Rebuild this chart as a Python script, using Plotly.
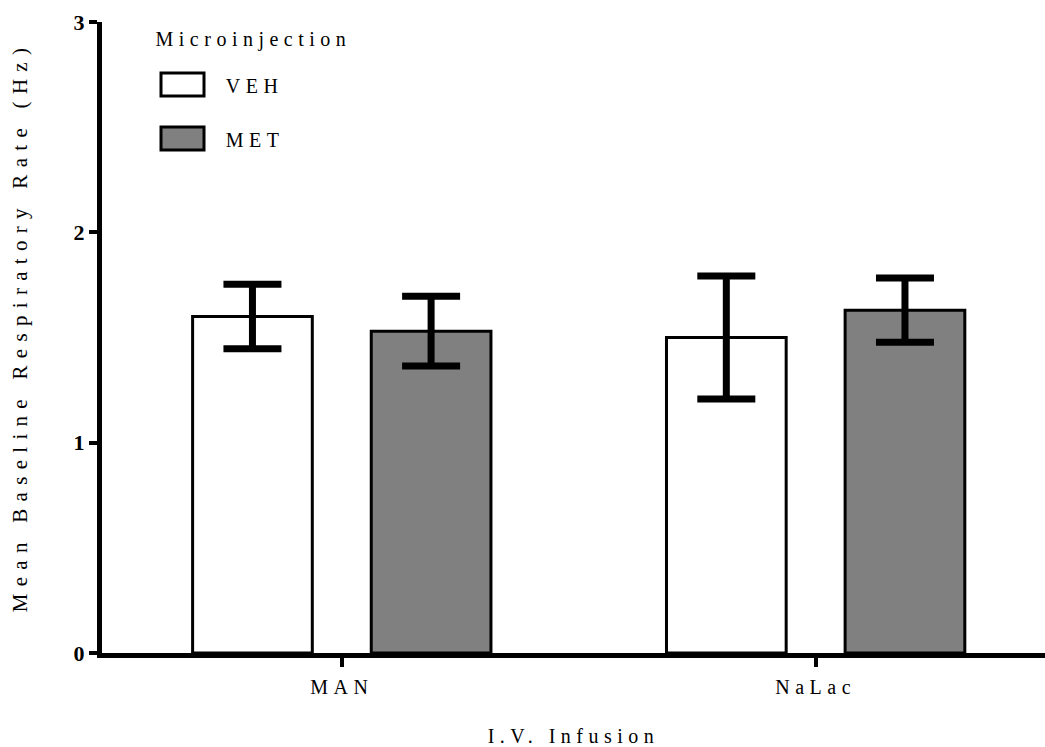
import plotly.graph_objects as go

categories = ["MAN", "NaLac"]
veh_values = [1.60, 1.50]
veh_sem = [0.153, 0.292]
met_values = [1.53, 1.63]
met_sem = [0.166, 0.153]
y_ticks = [0, 1, 2, 3]

FONT = "Liberation Serif, Times New Roman, serif"

fig = go.Figure()
fig.add_trace(go.Bar(
    x=categories, y=veh_values, name="VEH",
    marker=dict(color="white", line=dict(color="black", width=3)),
    error_y=dict(type="data", array=veh_sem, visible=True, color="black", thickness=7, width=29),
    showlegend=False,
))
fig.add_trace(go.Bar(
    x=categories, y=met_values, name="MET",
    marker=dict(color="#808080", line=dict(color="black", width=3)),
    error_y=dict(type="data", array=met_sem, visible=True, color="black", thickness=7, width=29),
    showlegend=False,
))

# custom legend (large swatches like the original)
PW, PH, L, B = 943, 631, 102, 653
legend_items = [("VEH", "white"), ("MET", "#808080")]
for i, (lab, col) in enumerate(legend_items):
    y0 = 73 + i * 54
    fig.add_shape(type="rect", xref="paper", yref="paper",
                  x0=(161 - L) / PW, x1=(204 - L) / PW,
                  y0=(B - (y0 + 23)) / PH, y1=(B - y0) / PH,
                  line=dict(color="black", width=3), fillcolor=col)
    fig.add_annotation(text=lab, xref="paper", yref="paper",
                       x=(232 - L) / PW, y=(B - (y0 + 13)) / PH,
                       xanchor="left", yanchor="middle", showarrow=False,
                       font=dict(family=FONT, size=20, color="black"))
fig.add_annotation(text="Microinjection", xref="paper", yref="paper",
                   x=(192 - L) / PW, y=(B - 40) / PH,
                   xanchor="left", yanchor="middle", showarrow=False,
                   font=dict(family=FONT, size=20, color="black"))

fig.update_layout(
    width=1045, height=747,
    margin=dict(l=102, r=0, t=22, b=94),
    paper_bgcolor="white", plot_bgcolor="white",
    barmode="group", bargap=0.246, bargroupgap=0.33,
    font=dict(family=FONT, color="black"),
)
fig.update_xaxes(
    range=[-0.506, 1.484],
    showline=True, linecolor="black", linewidth=5,
    ticks="outside", ticklen=9, tickwidth=4, tickcolor="black",
    tickfont=dict(family=FONT, size=20), ticklabelstandoff=3,
    showgrid=False, zeroline=False,
    title=dict(text="I.V. Infusion", font=dict(family=FONT, size=20), standoff=36),
)
fig.update_yaxes(
    range=[0, 3], tickvals=y_ticks,
    showline=True, linecolor="black", linewidth=5,
    ticks="outside", ticklen=8, tickwidth=4, tickcolor="black",
    tickfont=dict(family=FONT, size=22, weight="bold"),
    showgrid=False, zeroline=False,
    title=dict(text="Mean Baseline Respiratory Rate (Hz)", font=dict(family=FONT, size=21), standoff=42),
)

post = """
document.body.style.margin='0';
document.querySelectorAll('.xtitle, .xtick text, .annotation-text').forEach(function(e){
  e.style.letterSpacing='5.5px';
});
document.querySelectorAll('.ytitle').forEach(function(e){
  e.style.letterSpacing='7.3px';
  var t = e.getAttribute('transform') || '';
  e.setAttribute('transform', 'translate(0,-11) ' + t);
});
"""
fig.write_html("out.html", post_script=post, config={"displayModeBar": False})
